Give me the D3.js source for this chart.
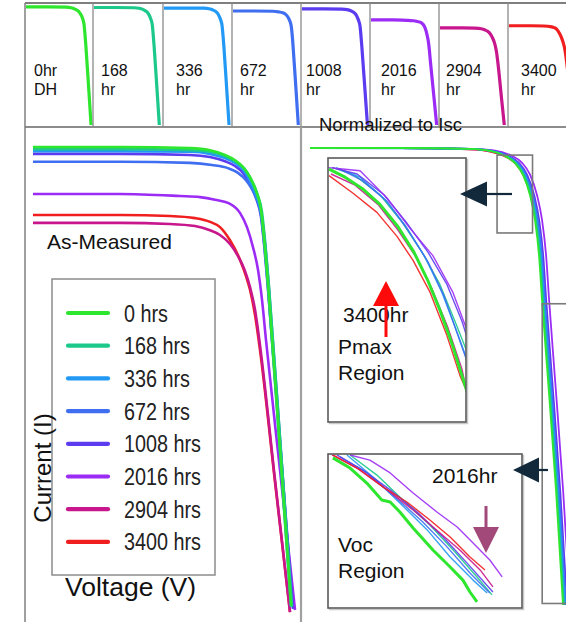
<!DOCTYPE html>
<html>
<head>
<meta charset="utf-8">
<script src="https://cdn.jsdelivr.net/npm/d3@7"></script>
<style>
  html, body { margin: 0; padding: 0; background: #fff; }
  svg { display: block; font-family: "Liberation Sans", Arial, Helvetica, sans-serif; }
</style>
</head>
<body>
<svg id="chart" width="566" height="622"></svg>
<script>
// ---- Damp-heat exposure series ----
const hours = [0, 168, 336, 672, 1008, 2016, 2904, 3400];
const legendLabels = ["0 hrs", "168 hrs", "336 hrs", "672 hrs", "1008 hrs", "2016 hrs", "2904 hrs", "3400 hrs"];
const stripLabels = [["0hr", "DH"], ["168", "hr"], ["336", "hr"], ["672", "hr"], ["1008", "hr"], ["2016", "hr"], ["2904", "hr"], ["3400", "hr"]];
const colors = ["#2ee62e", "#1cc98a", "#2299f5", "#3f6ef0", "#5b3cf0", "#9c2cf5", "#c8168c", "#f01e1e"];

// ---- As-measured I-V curves, [voltage (V), current (A)] ----
const iv0    = [[0,8.98],[13.18,8.98],[23.79,8.96],[26.82,8.92],[29.09,8.83],[30.61,8.73],[31.82,8.6],[32.88,8.41],[33.79,8.15],[34.55,7.78],[35.0,7.25],[35.61,6.36],[37.42,3.23],[39.09,0.27]];
const iv168  = [[0,8.94],[13.18,8.94],[23.79,8.92],[26.82,8.89],[29.09,8.81],[30.61,8.71],[31.97,8.58],[33.03,8.37],[33.94,8.11],[34.7,7.74],[35.15,7.21],[35.76,6.32],[37.58,3.19],[39.24,0.25]];
const iv336  = [[0,8.9],[13.18,8.9],[23.79,8.89],[26.82,8.85],[29.09,8.77],[30.61,8.68],[31.82,8.55],[32.88,8.33],[33.79,8.07],[34.55,7.71],[35.0,7.2],[35.61,6.32],[37.42,3.19],[39.09,0.25]];
const iv672  = [[0,8.7],[13.18,8.7],[23.79,8.68],[27.12,8.64],[29.55,8.58],[31.06,8.49],[32.27,8.35],[33.18,8.18],[33.94,7.98],[34.7,7.63],[35.15,7.16],[35.76,6.28],[37.58,3.17],[39.24,0.25]];
const iv1008 = [[0,8.85],[13.18,8.85],[23.79,8.83],[26.82,8.79],[29.09,8.71],[30.61,8.62],[31.82,8.49],[32.88,8.28],[33.79,8.01],[34.55,7.65],[35.0,7.14],[35.61,6.27],[37.58,3.13],[39.39,0.21]];
const iv2016 = [[0,8.09],[13.18,8.09],[22.27,8.05],[25.3,8.03],[27.58,7.98],[29.85,7.9],[31.36,7.73],[32.42,7.46],[33.33,7.08],[34.09,6.65],[34.7,6.08],[35.3,5.32],[37.42,2.85],[39.7,0.19]];
const iv2904 = [[0,7.54],[13.18,7.54],[20.76,7.52],[24.55,7.48],[26.82,7.4],[28.33,7.31],[29.85,7.14],[31.06,6.91],[32.12,6.63],[32.88,6.32],[33.64,5.89],[34.39,5.22],[36.67,2.66],[38.94,0.15]];
const iv3400 = [[0,7.69],[13.18,7.69],[20.76,7.67],[24.55,7.63],[26.82,7.56],[28.33,7.46],[29.85,7.21],[31.36,6.84],[32.27,6.53],[32.88,6.27],[33.64,5.79],[34.39,5.13],[36.67,2.62],[38.94,0.15]];
const ivCurves = [iv0, iv168, iv336, iv672, iv1008, iv2016, iv2904, iv3400];

// ---- Curves normalized to Isc, [voltage (V), I / Isc] ----
const nm0    = [[0,1],[13.95,1],[24.81,0.998],[27.91,0.994],[30.23,0.983],[31.78,0.968],[33.02,0.943],[34.11,0.9],[34.88,0.847],[35.5,0.773],[35.97,0.678],[36.9,0.508],[38.14,0.275],[39.22,0.032]];
const nm168  = [[0,1],[13.95,1],[24.81,0.998],[28.0,0.994],[30.35,0.983],[31.93,0.968],[33.17,0.943],[34.26,0.9],[35.03,0.847],[35.65,0.773],[36.12,0.678],[37.05,0.508],[38.29,0.275],[39.37,0.032]];
const nm336  = [[0,1],[13.95,0.999],[24.81,0.998],[28.1,0.994],[30.5,0.983],[32.08,0.968],[33.32,0.943],[34.41,0.9],[35.18,0.847],[35.8,0.773],[36.27,0.678],[37.2,0.508],[38.44,0.275],[39.52,0.032]];
const nm672  = [[0,1],[13.95,1],[24.81,0.998],[28.2,0.994],[30.65,0.983],[32.23,0.968],[33.47,0.943],[34.56,0.9],[35.33,0.847],[35.95,0.773],[36.42,0.678],[37.35,0.508],[38.59,0.275],[39.67,0.032]];
const nm1008 = [[0,1],[13.95,1],[24.81,0.998],[28.3,0.994],[30.85,0.983],[32.43,0.968],[33.67,0.943],[34.76,0.9],[35.53,0.847],[36.15,0.773],[36.62,0.678],[37.55,0.508],[38.79,0.275],[39.87,0.032]];
const nm2016 = [[0,1],[13.95,1],[24.81,0.998],[28.5,0.995],[31.2,0.984],[32.85,0.969],[34.1,0.944],[35.2,0.9],[35.98,0.847],[36.6,0.773],[37.07,0.678],[38.0,0.508],[39.24,0.275],[40.32,0.032]];
const nm2904 = [[0,1],[13.95,1],[24.81,0.997],[28.1,0.993],[30.5,0.982],[32.08,0.966],[33.32,0.94],[34.41,0.897],[35.18,0.845],[35.8,0.772],[36.27,0.678],[37.2,0.508],[38.44,0.275],[39.52,0.032]];
const nm3400 = [[0,1],[13.95,1],[24.81,0.997],[28.05,0.992],[30.4,0.981],[31.98,0.965],[33.22,0.939],[34.31,0.895],[35.08,0.843],[35.7,0.771],[36.17,0.677],[37.1,0.508],[38.34,0.275],[39.42,0.032]];
const normCurves = [nm0, nm168, nm336, nm672, nm1008, nm2016, nm2904, nm3400];

// ---- Close-up of the max-power knee, [voltage (V), I / Isc] ----
const pmaxWindowV = [29, 34.5];
const pmaxWindowN = [0.82, 0.985];
const pmax0    = [[29.04,0.978],[29.68,0.973],[30.36,0.966],[31.07,0.956],[31.79,0.942],[32.43,0.926],[32.99,0.908],[33.46,0.89],[33.94,0.869],[34.34,0.849],[34.58,0.837]];
const pmax168  = [[29.2,0.979],[30.08,0.974],[31.07,0.962],[31.95,0.945],[32.75,0.926],[33.46,0.906],[34.06,0.883],[34.54,0.864]];
const pmax336  = [[29.32,0.979],[30.28,0.973],[31.27,0.959],[32.07,0.943],[32.87,0.923],[33.54,0.901],[34.1,0.878],[34.54,0.859]];
const pmax672  = [[29.48,0.978],[30.36,0.971],[31.35,0.958],[32.19,0.94],[32.99,0.92],[33.62,0.899],[34.18,0.874],[34.54,0.858]];
const pmax1008 = [[29.16,0.979],[30.16,0.975],[31.23,0.962],[32.11,0.945],[32.99,0.926],[33.74,0.906],[34.34,0.883],[34.54,0.873]];
const pmax2016 = [[29.0,0.979],[29.68,0.978],[30.28,0.977],[31.35,0.96],[32.27,0.941],[33.18,0.924],[33.98,0.901],[34.5,0.879]];
const pmax2904 = [[29.12,0.975],[30.08,0.968],[30.99,0.956],[31.79,0.94],[32.51,0.923],[33.15,0.903],[33.78,0.879],[34.34,0.853],[34.58,0.835]];
const pmax3400 = [[29.04,0.974],[30.0,0.963],[30.95,0.951],[31.75,0.936],[32.39,0.921],[33.07,0.901],[33.74,0.874],[34.26,0.849],[34.54,0.839]];
const pmaxCurves = [pmax0, pmax168, pmax336, pmax672, pmax1008, pmax2016, pmax2904, pmax3400];

// ---- Close-up near open circuit, [voltage (V), I / Isc] ----
const vocWindowV = [36, 40.4];
const vocWindowN = [0.035, 0.67];
const voc0    = [[36.11,0.654],[36.5,0.612],[36.88,0.55],[37.22,0.48],[37.41,0.472],[37.63,0.431],[37.93,0.365],[38.38,0.274],[38.77,0.204],[39.06,0.15],[39.22,0.101],[39.38,0.06]];
const voc168  = [[36.5,0.666],[37.11,0.583],[37.7,0.48],[38.31,0.377],[38.84,0.274],[39.38,0.163],[39.72,0.089]];
const voc336  = [[36.43,0.666],[37.02,0.575],[37.63,0.468],[38.25,0.357],[38.77,0.245],[39.29,0.15],[39.61,0.097]];
const voc672  = [[36.27,0.658],[36.88,0.592],[37.47,0.501],[38.15,0.39],[38.7,0.287],[39.22,0.179],[39.67,0.097]];
const voc1008 = [[36.2,0.666],[36.79,0.604],[37.41,0.522],[38.02,0.431],[38.61,0.328],[39.15,0.221],[39.74,0.101]];
const voc2016 = [[36.5,0.666],[36.95,0.645],[37.41,0.592],[37.93,0.509],[38.47,0.431],[38.93,0.369],[39.38,0.287],[39.67,0.233],[39.95,0.163]];
const voc2904 = [[36.09,0.666],[36.66,0.612],[37.34,0.522],[37.93,0.439],[38.54,0.344],[38.99,0.274],[39.45,0.192],[39.74,0.122]];
const voc3400 = [[36.11,0.666],[36.73,0.604],[37.25,0.534],[37.79,0.472],[38.31,0.398],[38.77,0.328],[39.22,0.245],[39.56,0.192]];
const vocCurves = [voc0, voc168, voc336, voc672, voc1008, voc2016, voc2904, voc3400];

// ---- Layout ----
const W = 566, H = 622;
const stripLeft = [25, 93, 163, 232, 301, 370, 439, 508];
const stripTop = 3, stripBottom = 127;
const labelDx = [9, 8, 13, 8, 5, 11, 7, 13];
const divX = 301;
const navy = "#12293b";

const svg = d3.select("#chart");
const defs = svg.append("defs");
svg.append("rect").attr("width", W).attr("height", H).attr("fill", "#fff");

function clip(id, x, y, w, h) {
  defs.append("clipPath").attr("id", id).append("rect")
    .attr("x", x).attr("y", y).attr("width", w).attr("height", h);
  return `url(#${id})`;
}

// ---- Strip of individual curves ----
const strip = svg.append("g");
hours.forEach((h, i) => {
  const x0 = stripLeft[i];
  const x1 = i < hours.length - 1 ? stripLeft[i + 1] : W + 20;
  const sx = d3.scaleLinear().domain([0, 40]).range([x0 + 1, x0 + 68.2]);
  const sy = d3.scaleLinear().domain([0, 9]).range([138, 6.6]);
  strip.append("path")
    .datum(ivCurves[i])
    .attr("clip-path", clip("strip" + i, x0 + 1, stripTop + 1, x1 - x0 - 1, stripBottom - stripTop - 3))
    .attr("d", d3.line().x(d => sx(d[0])).y(d => sy(d[1])).curve(d3.curveMonotoneX))
    .attr("fill", "none").attr("stroke", colors[i]).attr("stroke-width", 3.2)
    .attr("stroke-linecap", "round").attr("stroke-linejoin", "round");
  const t = strip.append("text").attr("font-size", 16).attr("fill", "#111");
  stripLabels[i].forEach((s, k) => {
    t.append("tspan").attr("x", x0 + labelDx[i]).attr("y", 76 + k * 19).text(s);
  });
});

// strip frame
strip.append("line").attr("x1", 25).attr("x2", W).attr("y1", stripTop).attr("y2", stripTop)
  .attr("stroke", "#555").attr("stroke-width", 1.4);
strip.append("line").attr("x1", 25).attr("x2", W).attr("y1", stripBottom).attr("y2", stripBottom)
  .attr("stroke", "#666").attr("stroke-width", 1.4);
stripLeft.slice(1).forEach(x => {
  strip.append("line").attr("x1", x).attr("x2", x).attr("y1", stripTop).attr("y2", stripBottom)
    .attr("stroke", "#8a8a8a").attr("stroke-width", 1.3);
});
svg.append("line").attr("x1", 25).attr("x2", 25).attr("y1", stripTop).attr("y2", H)
  .attr("stroke", "#777").attr("stroke-width", 1.4);
svg.append("line").attr("x1", divX).attr("x2", divX).attr("y1", stripBottom).attr("y2", H)
  .attr("stroke", "#a0a0a0").attr("stroke-width", 2.2);

// ---- As-measured panel ----
const xL = d3.scaleLinear().domain([0, 40]).range([33, 297]);
const yL = d3.scaleLinear().domain([0, 9]).range([620, 146]);
const left = svg.append("g").attr("clip-path", clip("leftPanel", 26, 128, divX - 27, H - 128));
const lineL = d3.line().x(d => xL(d[0])).y(d => yL(d[1])).curve(d3.curveMonotoneX);
d3.range(hours.length - 1, -1, -1).forEach(i => {
  left.append("path").datum(ivCurves[i]).attr("d", lineL)
    .attr("fill", "none").attr("stroke", colors[i]).attr("stroke-width", 2.6)
    .attr("stroke-linejoin", "round");
});
svg.append("text").attr("x", 47).attr("y", 249).attr("font-size", 21).attr("fill", "#111").text("As-Measured");

// legend
const leg = svg.append("g");
leg.append("rect").attr("x", 52).attr("y", 279).attr("width", 163).attr("height", 296)
  .attr("fill", "#fff").attr("stroke", "#8c8c8c").attr("stroke-width", 1.5);
legendLabels.forEach((s, i) => {
  const cy = 313 + i * 32.7;
  leg.append("line").attr("x1", 68).attr("x2", 108).attr("y1", cy).attr("y2", cy)
    .attr("stroke", colors[i]).attr("stroke-width", 4.2).attr("stroke-linecap", "round");
  leg.append("text").attr("transform", `translate(124,${cy + 8.5}) scale(0.86,1)`)
    .attr("font-size", 23).attr("fill", "#222").text(s);
});

svg.append("text").attr("transform", "translate(51,468) rotate(-90)")
  .attr("text-anchor", "middle").attr("font-size", 24).attr("fill", "#111").text("Current (I)");
svg.append("text").attr("x", 65).attr("y", 596).attr("font-size", 26.5).attr("fill", "#111").text("Voltage (V)");

// ---- Normalized panel ----
const xR = d3.scaleLinear().domain([0, 40]).range([310, 568]);
const yR = d3.scaleLinear().domain([0, 1]).range([620, 148]);
const right = svg.append("g").attr("clip-path", clip("rightPanel", divX + 2, 128, W - divX - 2, H - 128));
const lineR = d3.line().x(d => xR(d[0])).y(d => yR(d[1])).curve(d3.curveMonotoneX);
d3.range(hours.length - 1, -1, -1).forEach(i => {
  right.append("path").datum(normCurves[i]).attr("d", lineR)
    .attr("fill", "none").attr("stroke", colors[i]).attr("stroke-width", 1.8)
    .attr("stroke-linejoin", "round");
});
svg.append("text").attr("x", 319).attr("y", 131).attr("font-size", 18.5).attr("fill", "#111").text("Normalized to Isc");

// zoom windows on the normalized curves
function windowRect(v, n) {
  right.append("rect")
    .attr("x", xR(v[0])).attr("y", yR(n[1]))
    .attr("width", xR(v[1]) - xR(v[0])).attr("height", yR(n[0]) - yR(n[1]))
    .attr("fill", "none").attr("stroke", "#7a7a7a").attr("stroke-width", 1.6);
}
windowRect(pmaxWindowV, pmaxWindowN);
windowRect(vocWindowV, vocWindowN);

// insets
function inset(id, box, v, n, curves) {
  const g = svg.append("g");
  g.append("rect").attr("x", box[0] + 1.5).attr("y", box[1] + 1.5).attr("width", box[2]).attr("height", box[3])
    .attr("fill", "none").attr("stroke", "#c8c8c8").attr("stroke-width", 1.5);
  g.append("rect").attr("x", box[0]).attr("y", box[1]).attr("width", box[2]).attr("height", box[3])
    .attr("fill", "#fff");
  const sx = d3.scaleLinear().domain(v).range([box[0], box[0] + box[2]]);
  const sy = d3.scaleLinear().domain(n).range([box[1] + box[3], box[1]]);
  const inner = g.append("g").attr("clip-path", clip(id, box[0], box[1], box[2], box[3]));
  const ln = d3.line().x(d => sx(d[0])).y(d => sy(d[1]));
  curves.forEach((c, i) => {
    if (i === 0) return;
    inner.append("path").datum(c).attr("d", ln).attr("fill", "none")
      .attr("stroke", colors[i]).attr("stroke-width", 1.4).attr("stroke-opacity", 0.9)
      .attr("stroke-linejoin", "round");
  });
  inner.append("path").datum(curves[0]).attr("d", ln).attr("fill", "none")
    .attr("stroke", colors[0]).attr("stroke-width", 3).attr("stroke-linejoin", "round");
  g.append("rect").attr("x", box[0]).attr("y", box[1]).attr("width", box[2]).attr("height", box[3])
    .attr("fill", "none").attr("stroke", "#5a5a5a").attr("stroke-width", 1.6);
  return g;
}
inset("pmaxInset", [328, 158, 138, 264], pmaxWindowV, pmaxWindowN, pmaxCurves);
inset("vocInset", [328, 454, 194, 154], vocWindowV, vocWindowN, vocCurves);

// inset annotations
svg.append("text").attr("x", 343).attr("y", 322).attr("font-size", 21).attr("fill", "#111").text("3400hr");
const red = svg.append("g");
red.append("line").attr("x1", 386).attr("x2", 386).attr("y1", 304).attr("y2", 337)
  .attr("stroke", "#ff0a0a").attr("stroke-width", 3);
red.append("path").attr("d", "M386,281L399,306L373,306Z").attr("fill", "#ff0a0a");
const pt = svg.append("text").attr("font-size", 21).attr("fill", "#111");
pt.append("tspan").attr("x", 338).attr("y", 354).text("Pmax");
pt.append("tspan").attr("x", 338).attr("y", 380).text("Region");

svg.append("text").attr("x", 432).attr("y", 483).attr("font-size", 21).attr("fill", "#111").text("2016hr");
const mv = svg.append("g");
mv.append("line").attr("x1", 486).attr("x2", 486).attr("y1", 506).attr("y2", 529)
  .attr("stroke", "#a3497a").attr("stroke-width", 3);
mv.append("path").attr("d", "M473,527L499,527L486,553Z").attr("fill", "#a3497a");
const vt = svg.append("text").attr("font-size", 21).attr("fill", "#111");
vt.append("tspan").attr("x", 338).attr("y", 552).text("Voc");
vt.append("tspan").attr("x", 338).attr("y", 578).text("Region");

// pointer arrows from the zoom windows to the insets
function pointer(tipX, y, baseX, tailX) {
  svg.append("line").attr("x1", baseX - 1).attr("x2", tailX).attr("y1", y).attr("y2", y)
    .attr("stroke", navy).attr("stroke-width", 2.2);
  svg.append("path").attr("d", `M${tipX},${y}L${baseX},${y - 12.5}L${baseX},${y + 12.5}Z`).attr("fill", navy);
}
pointer(460, 194, 487, 512);
pointer(513, 470, 539, 548);
</script>
</body>
</html>
